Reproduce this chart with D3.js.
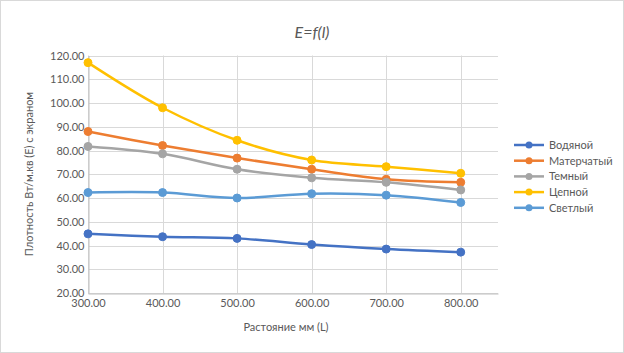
<!DOCTYPE html>
<html>
<head>
<meta charset="utf-8">
<script src="https://cdn.jsdelivr.net/npm/d3@7"></script>
<style>
  body { margin: 0; background: #fff; }
  text { font-family: Lato, "Liberation Sans", sans-serif; fill: #595959; }
</style>
</head>
<body>
<div id="chart"></div>
<script>
// distances, mm
var distances = [300, 400, 500, 600, 700, 800];
var xTicks = [300, 400, 500, 600, 700, 800];
var yTicks = [20, 30, 40, 50, 60, 70, 80, 90, 100, 110, 120];

var seriesNames = ["Водяной", "Матерчатый", "Темный", "Цепной", "Светлый"];
var vodyanoy   = [44.9, 43.7, 43.0, 40.4, 38.5, 37.2];
var matervhaty = [88.0, 82.1, 76.8, 72.1, 67.9, 66.6];
var temny      = [81.7, 78.6, 72.1, 68.5, 66.6, 63.4];
var tsepnoy    = [117.0, 98.0, 84.3, 76.0, 73.2, 70.4];
var svetly     = [62.3, 62.3, 60.0, 61.8, 61.2, 58.1];
var colors = ["#4472C4", "#ED7D31", "#A5A5A5", "#FFC000", "#5B9BD5"];

var allSeries = [vodyanoy, matervhaty, temny, tsepnoy, svetly];
var drawOrder = [0, 1, 2, 3, 4];

var W = 624, H = 353;
var svg = d3.select("#chart").append("svg").attr("width", W).attr("height", H);

svg.append("rect").attr("x", 0.5).attr("y", 0.5).attr("width", W - 1).attr("height", H - 1)
    .attr("fill", "#fff").attr("stroke", "#d9d9d9");

var xScale = d3.scaleLinear().domain([300, 850]).range([88, 498]);
var yScale = d3.scaleLinear().domain([20, 120]).range([293, 55.5]);

// grid
svg.append("g").selectAll("line").data(yTicks).enter().append("line")
    .attr("x1", xScale(300)).attr("x2", xScale(850))
    .attr("y1", d => Math.round(yScale(d)) + 0.5).attr("y2", d => Math.round(yScale(d)) + 0.5)
    .attr("stroke", "#d9d9d9").attr("stroke-width", 1);
svg.append("g").selectAll("line").data(xTicks).enter().append("line")
    .attr("x1", d => Math.round(xScale(d)) + 0.5).attr("x2", d => Math.round(xScale(d)) + 0.5)
    .attr("y1", yScale(20)).attr("y2", yScale(120))
    .attr("stroke", "#d9d9d9").attr("stroke-width", 1);

// axes
var xAxis = svg.append("g").attr("transform", "translate(0," + (Math.round(yScale(20)) + 0.5) + ")")
    .call(d3.axisBottom(xScale).tickValues(xTicks).tickFormat(d3.format(".2f")).tickSize(0).tickPadding(6));
xAxis.select(".domain").attr("stroke", "#bfbfbf");
xAxis.selectAll("text").attr("font-size", 11).style("fill", "#595959");

var yAxis = svg.append("g").attr("transform", "translate(" + (Math.round(xScale(300)) + 0.5) + ",0)")
    .call(d3.axisLeft(yScale).tickValues(yTicks).tickFormat(d3.format(".2f")).tickSize(0).tickPadding(4));
yAxis.select(".domain").attr("stroke", "#bfbfbf");
yAxis.selectAll("text").attr("font-size", 11).style("fill", "#595959");

// titles
svg.append("text").attr("x", 312).attr("y", 38).attr("text-anchor", "middle")
    .attr("font-size", 16).attr("font-style", "italic").text("E=f(l)");
svg.append("text").attr("x", 286).attr("y", 331).attr("text-anchor", "middle")
    .attr("font-size", 11).text("Растояние мм (L)");
svg.append("text").attr("transform", "translate(33,174) rotate(-90)").attr("text-anchor", "middle")
    .attr("font-size", 11).text("Плотность Вт/м.кв (E) с экраном");

// lines
var line = d3.line()
    .x((d, i) => xScale(distances[i]))
    .y(d => yScale(d))
    .curve(d3.curveCatmullRom.alpha(0.5));

drawOrder.forEach(function (k) {
    var g = svg.append("g");
    g.append("path").datum(allSeries[k]).attr("d", line)
        .attr("fill", "none").attr("stroke", colors[k]).attr("stroke-width", 2.5);
    g.selectAll("circle").data(allSeries[k]).enter().append("circle")
        .attr("cx", (d, i) => xScale(distances[i])).attr("cy", d => yScale(d))
        .attr("r", 4).attr("fill", colors[k]).attr("stroke", colors[k]);
});

// legend
var legend = svg.append("g").attr("transform", "translate(514,145)");
seriesNames.forEach(function (name, i) {
    var row = legend.append("g").attr("transform", "translate(0," + (i * 15.7) + ")");
    row.append("line").attr("x1", 0).attr("x2", 30).attr("y1", 0).attr("y2", 0)
        .attr("stroke", colors[i]).attr("stroke-width", 2.5);
    row.append("circle").attr("cx", 15).attr("cy", 0).attr("r", 3.5).attr("fill", colors[i]);
    row.append("text").attr("x", 35).attr("y", 4).attr("font-size", 11).text(name);
});
</script>
</body>
</html>
